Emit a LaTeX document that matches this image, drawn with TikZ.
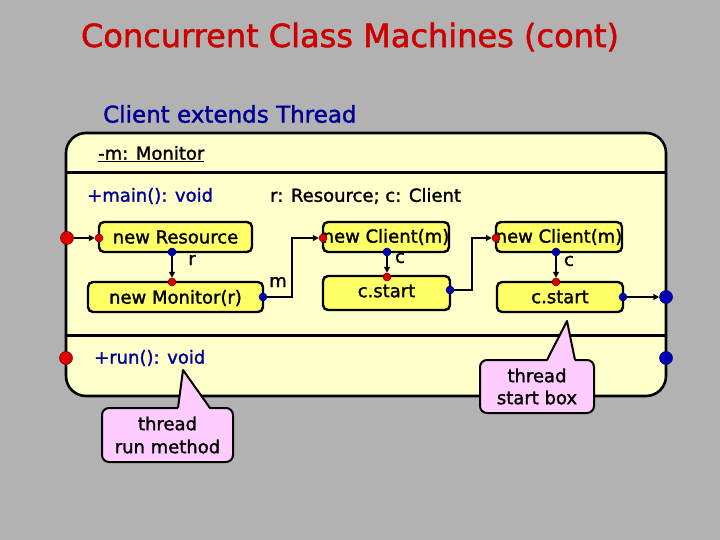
\documentclass[tikz,border=0pt]{standalone}
\usepackage{fontspec}
\setmainfont{DejaVu Sans}[RawFeature={embolden=1.5}]
\usetikzlibrary{arrows.meta}
\definecolor{bgray}{RGB}{178,178,178}
\definecolor{paleyel}{RGB}{255,255,204}
\definecolor{boxyel}{RGB}{255,255,102}
\definecolor{pinkc}{RGB}{255,204,255}
\definecolor{titlered}{RGB}{204,0,0}
\definecolor{navy}{RGB}{0,0,153}
\definecolor{dotred}{RGB}{225,0,0}
\definecolor{dotblue}{RGB}{0,0,180}
\tikzset{
  txt/.style={inner sep=0pt, font=\fontsize{18}{22}\selectfont},
  opbox/.style={draw, line width=2.4pt, fill=boxyel, rounded corners=5pt, inner sep=0pt},
  reddot/.style={circle, draw=black!60!red, line width=0.5pt, fill=dotred, minimum size=8pt, inner sep=0pt},
  bluedot/.style={circle, draw=black!60!blue, line width=0.5pt, fill=dotblue, minimum size=8pt, inner sep=0pt},
  bigred/.style={reddot, minimum size=13pt},
  bigblue/.style={bluedot, minimum size=13pt},
  wire/.style={line width=2pt, -{Triangle[length=6pt,width=6pt]}},
  callbox/.style={draw, line width=2pt, fill=pinkc, rounded corners=7pt, inner sep=0pt, align=center, font=\fontsize{18}{23}\selectfont},
}
\begin{document}
\begin{tikzpicture}[x=1pt,y=-1pt]
\useasboundingbox (0,0) rectangle (720,540);
\fill[bgray] (0,0) rectangle (720,540);

% titles
\node[inner sep=0pt, text=titlered, font=\fontsize{32}{36}\selectfont] (title) at (350,37) {Concurrent Class Machines (cont)};
\node[inner sep=0pt, anchor=west, text=navy, font=\fontsize{23}{26}\selectfont] (cls) at (103,114) {Client extends Thread};

% big class box
\draw[line width=2.6pt, fill=paleyel, rounded corners=20pt] (66,133) rectangle (666,396);
\draw[line width=3pt] (66,173) -- (666,173);
\draw[line width=3pt] (66,335) -- (666,335);

\node[txt, anchor=west] (attr) at (98,154) {\underline{-m: Monitor}};
\node[txt, anchor=west, text=navy] (mainop) at (87,196) {+main(): void};
\node[txt, anchor=west] (decl) at (270,196) {r: Resource; c: Client};
\node[txt, anchor=west, text=navy] (runop) at (94,358) {+run(): void};

% operation boxes
\node[opbox, minimum width=153pt, minimum height=30pt] (nres) at (175.5,237) {};
\node[txt] (nrest) at (175.5,237) {new Resource};
\node[opbox, minimum width=175pt, minimum height=30pt] (nmon) at (175.5,297) {};
\node[txt] (nmont) at (175.5,298) {new Monitor(r)};
\node[opbox, minimum width=126pt, minimum height=30pt] (ncl1) at (386,237) {};
\node[txt] (ncl1t) at (386,237) {new Client(m)};
\node[opbox, minimum width=127pt, minimum height=34pt] (cst1) at (386.5,293) {};
\node[txt] (cst1t) at (386.5,291) {c.start};
\node[opbox, minimum width=126pt, minimum height=30pt] (ncl2) at (559,237) {};
\node[txt] (ncl2t) at (559,237) {new Client(m)};
\node[opbox, minimum width=126pt, minimum height=30pt] (cst2) at (560,297) {};
\node[txt] (cst2t) at (560,297) {c.start};

% ports
\node[bigred] (mainIn) at (67,238) {};
\node[reddot] (nrIn) at (99,238) {};
\node[bluedot] (nrOut) at (172,252) {};
\node[reddot] (nmIn) at (172,282) {};
\node[bluedot] (nmOut) at (263,297) {};
\node[reddot] (c1In) at (323,238) {};
\node[bluedot] (c1Out) at (387,252) {};
\node[reddot] (s1In) at (387,277) {};
\node[bluedot] (s1Out) at (450,290) {};
\node[reddot] (c2In) at (496,238) {};
\node[bluedot] (c2Out) at (556,252) {};
\node[reddot] (s2In) at (556,282) {};
\node[bluedot] (s2Out) at (623,297) {};
\node[bigblue] (mainOut) at (666,297) {};
\node[bigred] (runIn) at (66,358) {};
\node[bigblue] (runOut) at (666,358) {};

% wires
\draw[wire] (mainIn) -- (nrIn);
\draw[wire] (nrOut) -- (nmIn);
\draw[wire] (nmOut) -- ++(29,0) |- (c1In);
\draw[wire] (c1Out) -- (s1In);
\draw[wire] (s1Out) -- ++(22,0) |- (c2In);
\draw[wire] (c2Out) -- (s2In);
\draw[wire] (s2Out) -- (mainOut);

% labels
\node[txt] (lr) at (192,260) {r};
\node[txt] (lm) at (278,282) {m};
\node[txt] (lc1) at (400,258) {c};
\node[txt] (lc2) at (569,261) {c};

% callouts
\node[callbox, minimum width=131pt, minimum height=54pt] (runnote) at (167.5,435) {thread\\run method};
\fill[pinkc] (178,410) -- (183,370) -- (210,410) -- cycle;
\draw[line width=2pt, line join=round] (178,408) -- (183,370) -- (210,408);

\node[callbox, minimum width=114pt, minimum height=53pt, font=\fontsize{18}{22}\selectfont] (startnote) at (537,386.5) {thread\\start box};
\fill[pinkc] (547,362) -- (567,321) -- (575,362) -- cycle;
\draw[line width=2pt, line join=round] (547,360) -- (567,321) -- (575,360);
\end{tikzpicture}
\end{document}
